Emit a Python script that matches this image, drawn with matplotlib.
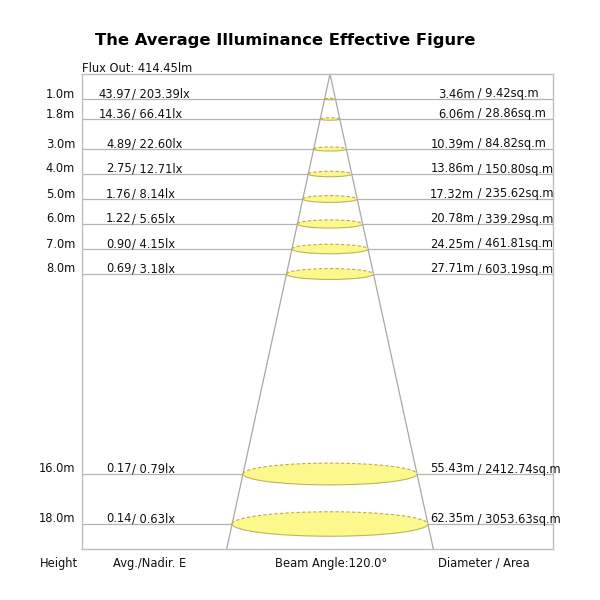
import numpy as np
import matplotlib
matplotlib.use("Agg")
import matplotlib.pyplot as plt
from matplotlib.patches import Ellipse, Arc

# ---- data ----
heights = [1.0, 1.8, 3.0, 4.0, 5.0, 6.0, 7.0, 8.0, 16.0, 18.0]
avg_lux = ["43.97", "14.36", "4.89", "2.75", "1.76", "1.22", "0.90", "0.69", "0.17", "0.14"]
nadir_lux = ["203.39", "66.41", "22.60", "12.71", "8.14", "5.65", "4.15", "3.18", "0.79", "0.63"]
diameters = [3.46, 6.06, 10.39, 13.86, 17.32, 20.78, 24.25, 27.71, 55.43, 62.35]
areas = ["9.42", "28.86", "84.82", "150.80", "235.62", "339.29", "461.81", "603.19", "2412.74", "3053.63"]
flux = "414.45"
beam_angle = 120.0
max_height = 19.0

# ---- layout (pixels) ----
W = H = 600
box_l, box_r, box_t, box_b = 82, 553, 74, 549
cx = 330
px_per_m_x = 3.14
px_per_m_y = (box_b - box_t) / max_height

def dx(px):
    return (px - cx) / px_per_m_x

def dy(py):
    return (py - box_t) / px_per_m_y

plt.rcParams['font.family'] = ['DejaVu Sans']
fig = plt.figure(figsize=(6, 6), dpi=100)
ax = fig.add_axes([box_l / W, 1 - box_b / H, (box_r - box_l) / W, (box_b - box_t) / H])
ax.set_xlim(dx(box_l), dx(box_r))
ax.set_ylim(max_height, 0)
ax.set_xticks([])
ax.set_yticks([])
for s in ax.spines.values():
    s.set_color('#bdbdbd')
    s.set_linewidth(1.0)

line_c = '#b4b4b4'
fs = 8.3
tc = '#111111'

# horizontal lines
for h in heights:
    ax.plot([dx(box_l), dx(box_r)], [h, h], color=line_c, lw=0.9, zorder=1)

# cone
half = np.tan(np.radians(beam_angle / 2)) * max_height
ax.plot([-half, 0, half], [max_height, 0, max_height], color='#a8a8a8', lw=0.9, zorder=2,
        clip_on=False)

# ellipses
ratio = px_per_m_x / 8 / px_per_m_y
for h, d in zip(heights, diameters):
    eh = d * ratio
    ax.add_patch(Ellipse((0, h), d, eh, facecolor='#fdf88c', edgecolor='none', zorder=3))
    ax.add_patch(Arc((0, h), d, eh, theta1=180, theta2=360, edgecolor='#b9aa55', lw=0.8,
                     linestyle=(0, (3, 2)), zorder=4))
    ax.add_patch(Arc((0, h), d, eh, theta1=0, theta2=180, edgecolor='#c2b25a', lw=0.8,
                     zorder=4))

# texts
off = 1.5 / px_per_m_y
for h, a, n, d, ar in zip(heights, avg_lux, nadir_lux, diameters, areas):
    y = h - off
    ax.text(dx(75), y, f"{h:.1f}m", ha='right', va='baseline', fontsize=fs, color=tc, clip_on=False)
    ax.text(dx(131.6), y, a, ha='right', va='baseline', fontsize=fs, color=tc, clip_on=False)
    ax.text(dx(131.6), y, "/ " + n + "lx", ha='left', va='baseline', fontsize=fs, color=tc, clip_on=False)
    ax.text(dx(474.4), y, f"{d:.2f}m", ha='right', va='baseline', fontsize=fs, color=tc, clip_on=False)
    ax.text(dx(474.4), y, " / " + ar + "sq.m", ha='left', va='baseline', fontsize=fs, color=tc, clip_on=False)

ax.text(dx(82), dy(72), f"Flux Out: {flux}lm", ha='left', va='baseline', fontsize=fs, color=tc, clip_on=False)

yb = dy(567)
ax.text(dx(40), yb, "Height", ha='left', va='baseline', fontsize=fs, color=tc, clip_on=False)
ax.text(dx(113), yb, "Avg./Nadir. E", ha='left', va='baseline', fontsize=fs, color=tc, clip_on=False)
ax.text(dx(275), yb, f"Beam Angle:{beam_angle:.1f}°", ha='left', va='baseline', fontsize=fs, color=tc, clip_on=False)
ax.text(dx(438), yb, "Diameter / Area", ha='left', va='baseline', fontsize=fs, color=tc, clip_on=False)

fig.text(95 / W, 1 - 45 / H, "The Average Illuminance Effective Figure", ha='left', va='baseline',
         fontsize=11.8, fontweight='bold', color='black')

fig.savefig("out.png", dpi=100, facecolor='white')
